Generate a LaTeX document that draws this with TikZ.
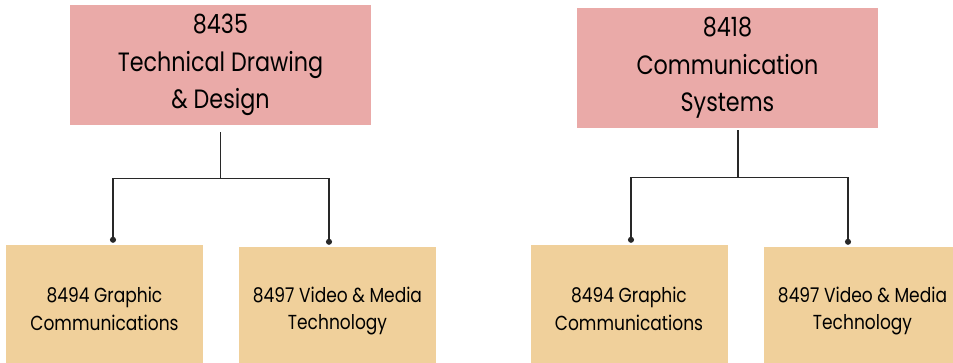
\documentclass[tikz,border=0pt]{standalone}
\usepackage{fontspec}
\setmainfont{Poppins}[FakeStretch=0.84]
\usetikzlibrary{arrows.meta}
\definecolor{headfill}{RGB}{234,170,168}
\definecolor{subfill}{RGB}{240,208,155}
\definecolor{linkgray}{RGB}{40,40,40}
\tikzset{
  headbox/.style={fill=headfill, draw=none, minimum width=301pt, minimum height=120pt,
    inner sep=0pt, align=center, font=\fontsize{26.5}{37.5}\selectfont},
  subbox/.style={fill=subfill, draw=none, minimum width=197pt, minimum height=128pt,
    inner sep=0pt, align=center, font=\fontsize{20.3}{27.5}\selectfont},
  link/.style={draw=linkgray, line width=1.2pt},
  dotlink/.style={link, {Circle[length=6pt]}-{Circle[length=6pt]}},
}
\begin{document}
\begin{tikzpicture}[x=1pt, y=-1pt]
  \clip (0,0) rectangle (953,363);
  \fill[white] (0,0) rectangle (953,363);

  % course headers
  \node[headbox] (tl) at (220.5,65) {8435\\Technical Drawing\\\& Design};
  \node[headbox] (tr) at (727.5,68) {8418\\Communication\\Systems};

  % follow-on courses
  \node[subbox] (a1) at (104.5,309) {8494 Graphic\\Communications};
  \node[subbox] (a2) at (337.5,311) {8497 Video \& Media\\Technology};
  \node[subbox] (b1) at (629,309) {8494 Graphic\\Communications};
  \node[subbox] (b2) at (862.5,311) {8497 Video \& Media\\Technology};

  % left tree
  \draw[link] ([yshift=-7pt]tl.south) -- ([yshift=-53pt]tl.south) coordinate (jl);
  \draw[dotlink] ([xshift=8.5pt,yshift=2pt]a1.north) |- (jl) -| ([xshift=-8.5pt,yshift=2pt]a2.north);

  % right tree
  \draw[link] ([xshift=10.5pt,yshift=-2pt]tr.south) -- ([xshift=10.5pt,yshift=-49pt]tr.south) coordinate (jr);
  \draw[dotlink] ([xshift=2pt,yshift=2pt]b1.north) |- (jr) -| ([xshift=-14.5pt,yshift=2pt]b2.north);
\end{tikzpicture}
\end{document}
